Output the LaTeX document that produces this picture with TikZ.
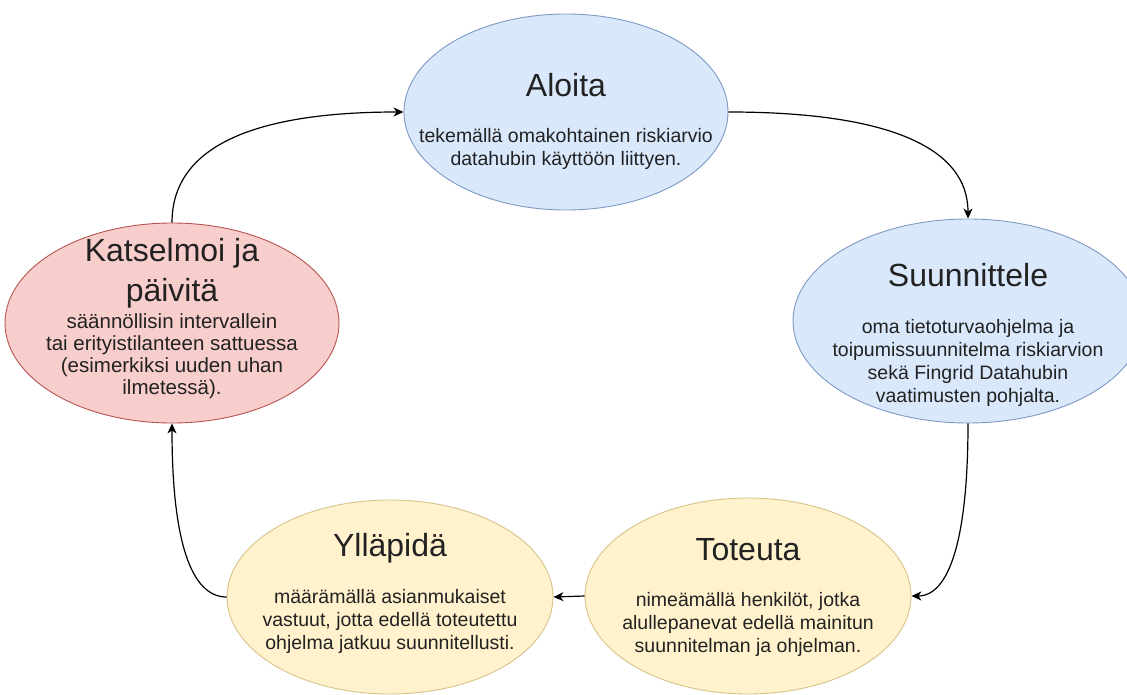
\documentclass[tikz,border=0pt]{standalone}
\usepackage{fontspec}
\setmainfont{Liberation Sans}
\usetikzlibrary{shapes.geometric,arrows.meta}
\definecolor{blueF}{HTML}{DAE8FC}
\definecolor{blueD}{HTML}{7D99C4}
\definecolor{redF}{HTML}{F8CECC}
\definecolor{redD}{HTML}{B85450}
\definecolor{yelF}{HTML}{FFF2CC}
\definecolor{yelD}{HTML}{D6C48A}
\definecolor{txt}{HTML}{222222}
\tikzset{
  ell/.style={ellipse, inner sep=0pt, line width=0.9pt},
  ttl/.style={text=txt, font=\fontsize{32}{40}\selectfont, align=center, inner sep=0pt},
  body/.style={text=txt, font=\fontsize{19.5}{23}\selectfont, align=center, inner sep=0pt},
  arr/.style={line width=1.2pt, -{Stealth[length=10pt,width=9pt,inset=3pt]}}
}
\begin{document}
\begin{tikzpicture}[x=1pt,y=-1pt]
\useasboundingbox (0,0) rectangle (1127,695);
\clip (0,0) rectangle (1127,695);
\fill[white] (0,0) rectangle (1127,695);
% ellipses
\node[ell, fill=blueF, draw=blueD, minimum width=324pt, minimum height=196pt] (aloita) at (566,112) {};
\node[ell, fill=blueF, draw=blueD, minimum width=350pt, minimum height=204pt] (suun) at (968,321) {};
\node[ell, fill=yelF, draw=yelD, minimum width=326pt, minimum height=196pt] (tot) at (748,596) {};
\node[ell, fill=yelF, draw=yelD, minimum width=326pt, minimum height=194pt] (yll) at (390,597) {};
\node[ell, fill=redF, draw=redD, minimum width=334pt, minimum height=200pt] (kats) at (172,323) {};
% texts
\node[ttl] (aloitaT) at (566,85) {Aloita};
\node[body] (aloitaB) at (566,149) {tekemällä omakohtainen riskiarvio\\datahubin käyttöön liittyen.};
\node[ttl] (suunT) at (968,275) {Suunnittele};
\node[body] (suunB) at (968,363) {oma tietoturvaohjelma ja\\toipumissuunnitelma riskiarvion\\sekä Fingrid Datahubin\\vaatimusten pohjalta.};
\node[ttl] (totT) at (748,550) {Toteuta};
\node[body] (totB) at (748,624) {nimeämällä henkilöt, jotka\\alullepanevat edellä mainitun\\suunnitelman ja ohjelman.};
\node[ttl] (yllT) at (390,548) {Ylläpidä};
\node[body] (yllB) at (390,621) {määrämällä asianmukaiset\\vastuut, jotta edellä toteutettu\\ohjelma jatkuu suunnitellusti.};
\node[ttl] (katsT) at (172,273) {Katselmoi ja\\päivitä};
\node[body, font=\fontsize{20.5}{22}\selectfont] (katsB) at (172,356) {säännöllisin intervallein\\tai erityistilanteen sattuessa\\(esimerkiksi uuden uhan\\ilmetessä).};
% connectors
\draw[arr] (aloita.east) .. controls +(160,0) and +(0,-71) .. (suun.north);
\draw[arr] (suun.south) .. controls +(0,115) and +(38,0) .. (tot.east);
\draw[arr] (tot.west) -- (yll.east);
\draw[arr] (yll.west) .. controls +(-36,0) and +(0,116) .. (kats.south);
\draw[arr] (kats.north) .. controls +(0,-74) and +(-154,0) .. (aloita.west);
\end{tikzpicture}
\end{document}
